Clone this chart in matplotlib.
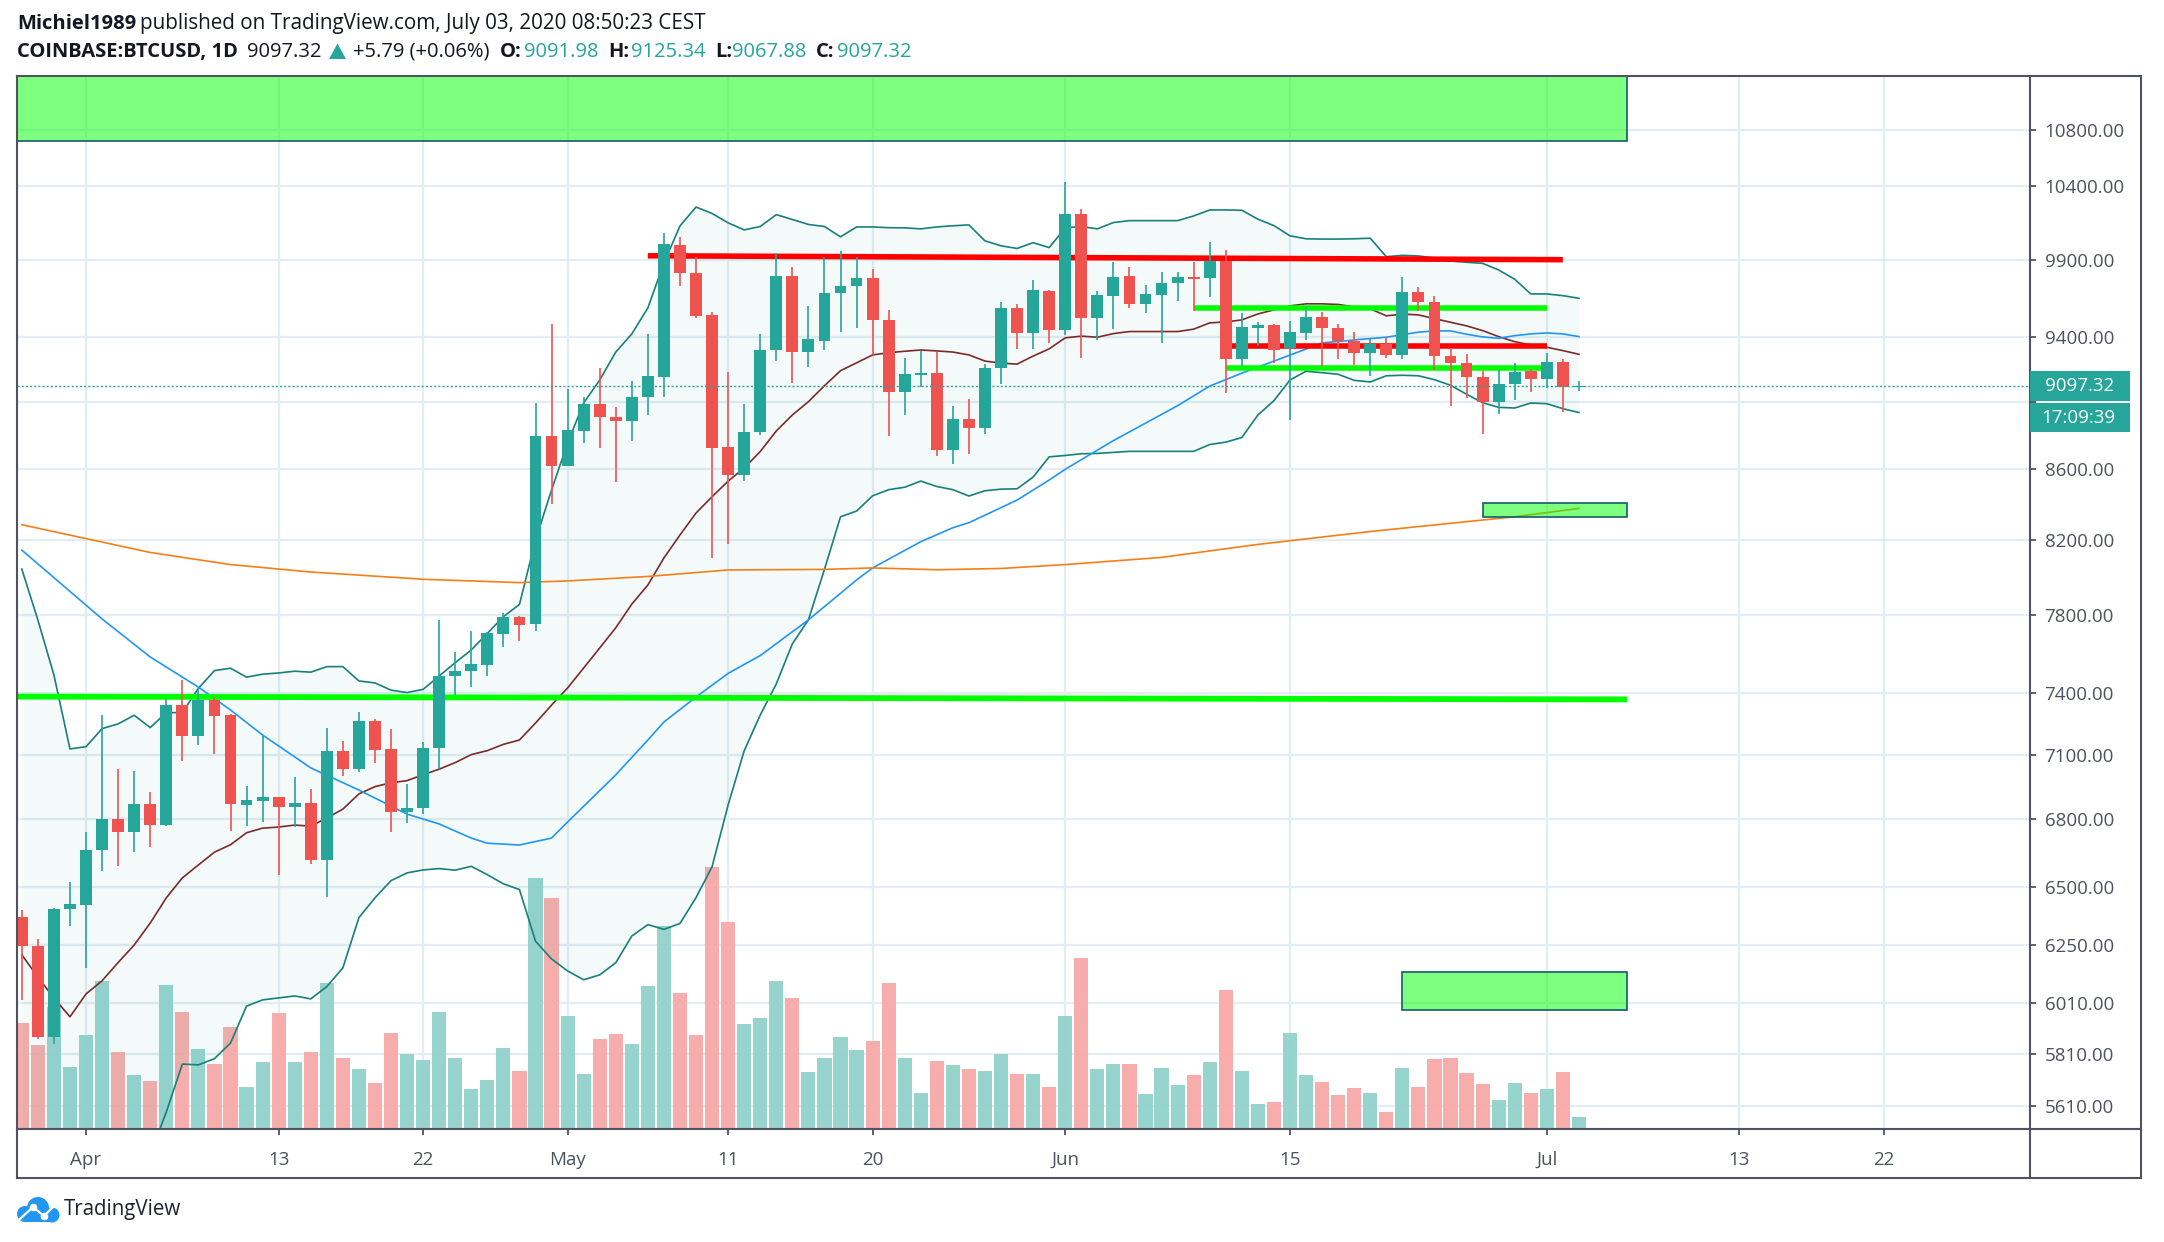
# BTCUSD daily chart, TradingView style
import matplotlib
matplotlib.use('Agg')
import matplotlib.pyplot as plt
import numpy as np
from matplotlib.lines import Line2D
from matplotlib.patches import Circle, Polygon, Rectangle
from matplotlib.ticker import NullLocator
from matplotlib.transforms import IdentityTransform

W, H = 2164, 1242
plt.rcParams['font.family'] = ['Open Sans', 'DejaVu Sans']

# days counted from Apr 1 (0), first candle is Mar 28
days = list(range(-4, 94))

opens = [6367, 6247, 5875, 6405, 6420, 6660, 6802, 6741, 6872, 6775, 7340, 7192, 7368, 7292,
         6865, 6884, 6905, 6857, 6875, 6618, 7120, 7035, 7263, 7128, 6834, 6854, 7135, 7488,
         7510, 7542, 7702, 7788, 7754, 8795, 8622, 8827, 8986, 8910, 8886, 9031, 9152, 9999,
         9812, 9538, 8731, 8566, 8818, 9318, 9793, 9305, 9375, 9678, 9726, 9782, 9510, 9059,
         9164, 9178, 8713, 8899, 8841, 9206, 9581, 9423, 9697, 9443, 10211, 9518, 9663, 9791,
         9610, 9668, 9744, 9783, 9778, 9892, 9264, 9458, 9473, 9328, 9426, 9525, 9454, 9374,
         9297, 9355, 9285, 9685, 9622, 9280, 9239, 9153, 9000, 9110, 9188, 9137, 9241, 9091.98]
highs = [6400, 6275, 6407, 6522, 6742, 7292, 7034, 7025, 6925, 7372, 7468, 7417, 7380, 7300,
         6955, 7198, 6905, 6997, 6940, 7228, 7165, 7307, 7272, 7225, 6962, 7164, 7774, 7610,
         7717, 7712, 7809, 7795, 8990, 9482, 9077, 9028, 9206, 8966, 9126, 9419, 10078, 10052,
         9921, 9557, 9183, 8985, 9419, 9943, 9850, 9597, 9917, 9958, 9917, 9836, 9572, 9265,
         9313, 9307, 8975, 9016, 9228, 9626, 9611, 9766, 9703, 10428, 10240, 9693, 9884, 9853,
         9731, 9818, 9816, 9884, 10015, 9967, 9555, 9492, 9480, 9500, 9588, 9557, 9482, 9428,
         9391, 9401, 9788, 9720, 9662, 9333, 9292, 9190, 9192, 9235, 9198, 9298, 9260, 9125.34]
lows = [6023, 5867, 5848, 6332, 6155, 6567, 6590, 6653, 6675, 6771, 7070, 7150, 7105, 6746,
        6771, 6786, 6552, 6767, 6598, 6456, 7000, 7018, 7060, 6742, 6783, 6825, 7032, 7392,
        7433, 7488, 7632, 7667, 7715, 8403, 8620, 8755, 8726, 8529, 8767, 8920, 9029, 9724,
        9517, 8102, 8180, 8533, 8802, 9250, 9113, 9212, 9320, 9433, 9459, 9286, 8798, 8921,
        9091, 8680, 8633, 8688, 8808, 9107, 9326, 9322, 9361, 9412, 9266, 9380, 9447, 9582,
        9550, 9361, 9631, 9567, 9657, 9050, 9219, 9342, 9239, 8893, 9380, 9221, 9263, 9227,
        9157, 9268, 9263, 9567, 9192, 8977, 9021, 8810, 8927, 9011, 9057, 9083, 8936, 9067.88]
closes = [6247, 5875, 6405, 6423, 6661, 6802, 6741, 6872, 6775, 7340, 7192, 7368, 7286, 6870,
          6887, 6905, 6858, 6877, 6618, 7120, 7035, 7262, 7125, 6834, 6852, 7135, 7487, 7510,
          7546, 7704, 7788, 7750, 8795, 8622, 8829, 8986, 8906, 8882, 9031, 9154, 10005, 9810,
          9534, 8727, 8566, 8820, 9320, 9793, 9307, 9384, 9678, 9728, 9782, 9510, 9059, 9168,
          9178, 8713, 8899, 8841, 9208, 9581, 9423, 9700, 9443, 10211, 9518, 9665, 9787, 9610,
          9672, 9748, 9783, 9772, 9892, 9264, 9462, 9473, 9320, 9428, 9526, 9454, 9374, 9301,
          9355, 9285, 9685, 9622, 9280, 9239, 9153, 9000, 9110, 9182, 9137, 9241, 9092, 9097.32]
volumes = [106, 84, 122, 62, 94, 148, 77, 54, 48, 144, 117, 80, 65, 102, 42, 67, 116, 67, 77, 146,
           71, 60, 46, 96, 75, 69, 117, 71, 40, 49, 81, 58, 251, 231, 113, 55, 90, 95, 85, 143,
           203, 136, 94, 262, 207, 105, 111, 148, 131, 57, 71, 92, 79, 88, 146, 71, 36, 68, 64, 60,
           58, 75, 55, 55, 42, 113, 171, 60, 65, 65, 35, 61, 44, 54, 67, 139, 58, 25, 27, 96,
           54, 47, 34, 41, 36, 17, 61, 42, 70, 71, 56, 45, 29, 46, 36, 40, 57, 12]

bb_upper = [8044, 7774, 7492, 7129, 7140, 7227, 7250, 7292, 7232, 7305, 7305, 7425, 7514, 7526,
            7481, 7496, 7502, 7511, 7506, 7534, 7534, 7462, 7452, 7416, 7404, 7420, 7487, 7554,
            7619, 7704, 7791, 7855, 8202, 8482, 8754, 8992, 9132, 9305, 9419, 9585, 9878, 10127,
            10256, 10212, 10148, 10100, 10123, 10204, 10171, 10137, 10123, 10053, 10120, 10120,
            10115, 10114, 10107, 10120, 10128, 10134, 10026, 9993, 9975, 10014, 9981, 10114,
            10123, 10107, 10150, 10163, 10163, 10163, 10163, 10195, 10236, 10236, 10234, 10173,
            10129, 10060, 10040, 10038, 10038, 10040, 10044, 9920, 9929, 9925, 9911, 9891, 9883,
            9876, 9832, 9771, 9675, 9675, 9664, 9647]
bb_lower = [4900, 4850, 4800, 4850, 4950, 5050, 5150, 5300, 5430, 5587, 5770, 5767, 5791, 5852,
            5999, 6024, 6032, 6040, 6028, 6078, 6155, 6366, 6451, 6526, 6560, 6573, 6579, 6572,
            6589, 6552, 6512, 6487, 6266, 6192, 6142, 6106, 6126, 6176, 6288, 6336, 6316, 6341,
            6452, 6587, 6866, 7120, 7293, 7447, 7650, 7774, 8042, 8331, 8363, 8449, 8484, 8498,
            8533, 8502, 8484, 8448, 8478, 8487, 8489, 8556, 8673, 8681, 8691, 8693, 8699, 8705,
            8705, 8705, 8705, 8705, 8745, 8759, 8786, 8920, 9006, 9132, 9186, 9177, 9167, 9130,
            9120, 9158, 9161, 9158, 9134, 9100, 9045, 8994, 8966, 8962, 8992, 8988, 8958, 8935]
bb_basis = [6209, 6117, 6032, 5956, 6048, 6102, 6177, 6250, 6343, 6451, 6538, 6595, 6652, 6685,
            6739, 6760, 6765, 6774, 6769, 6806, 6847, 6917, 6951, 6969, 6979, 7007, 7033, 7064,
            7102, 7121, 7151, 7172, 7254, 7342, 7427, 7527, 7629, 7733, 7857, 7958, 8104, 8230,
            8352, 8444, 8533, 8608, 8704, 8825, 8920, 9000, 9097, 9189, 9238, 9287, 9301, 9310,
            9318, 9312, 9305, 9287, 9249, 9236, 9230, 9280, 9325, 9394, 9405, 9398, 9421, 9434,
            9434, 9434, 9434, 9449, 9489, 9495, 9508, 9546, 9572, 9598, 9611, 9611, 9607, 9592,
            9579, 9534, 9545, 9540, 9516, 9493, 9470, 9440, 9402, 9370, 9349, 9335, 9314, 9291]

ma50_days = [-4, 1, 4, 7, 9, 11, 14, 17, 20, 22, 24, 25, 27, 29, 30, 33, 35, 36, 38, 40, 42, 45, 48, 49,
             52, 54, 55, 58, 60, 61, 64, 68, 70, 72, 75, 77, 79, 81, 83, 84, 85, 86, 87, 88, 89, 90,
             91, 92, 93]
ma50 = [8147, 7779, 7583, 7431, 7318, 7196, 7039, 6935, 6824, 6779, 6715, 6692, 6684, 6715, 6788,
        7006, 7172, 7259, 7382, 7500, 7590, 7774, 7985, 8050, 8193, 8270, 8298, 8425, 8539, 8601,
        8768, 8976, 9095, 9174, 9286, 9362, 9381, 9398, 9430, 9438, 9438, 9417, 9400, 9391, 9408,
        9419, 9425, 9419, 9402]
ma200_days = [-4, 0, 4, 9, 14, 21, 27, 30, 35, 40, 46, 49, 53, 57, 61, 67, 73, 80, 87, 89, 93]
ma200 = [8287, 8210, 8134, 8068, 8028, 7989, 7971, 7980, 8004, 8039, 8042, 8050, 8040, 8047, 8068,
         8107, 8178, 8249, 8313, 8331, 8378]

price_ticks = [5610, 5810, 6010, 6250, 6500, 6800, 7100, 7400, 7800, 8200, 8600, 9000, 9400, 9900,
               10400, 10800]
time_ticks = [0, 12, 21, 30, 40, 49, 61, 75, 91, 103, 112]
time_labels = ['Apr', '13', '22', 'May', '11', '20', 'Jun', '15', 'Jul', '13', '22']
last_price = 9097.32

GREEN = '#26a69a'
RED = '#ef5350'
GRID = '#e3edf3'
AXIS = '#50535e'
TEXT = '#131722'


def fx(x):
    return x / W


def fy(y):
    return 1 - y / H


fig = plt.figure(figsize=(W / 100, H / 100), dpi=100, facecolor='white')
ax = fig.add_axes([fx(17), fy(1129), fx(2030 - 17), (1129 - 76) / H])
ax.set_yscale('log')
ax.set_xlim(-4.3, 121.1)
ax.set_ylim(5524, 11199)

# grid and axis ticks
ax.set_yticks(price_ticks)
ax.set_yticklabels(['' if p == 9000 else f'{p:.2f}' for p in price_ticks])
ax.yaxis.set_minor_locator(NullLocator())
ax.set_xticks(time_ticks)
ax.set_xticklabels(time_labels)
ax.yaxis.tick_right()
ax.tick_params(axis='y', length=4.5, width=1.3, color=AXIS, labelcolor='#4c525e', labelsize=13.5, pad=6)
ax.tick_params(axis='x', length=4.5, width=1.3, color=AXIS, labelcolor='#4c525e', labelsize=13.5, pad=11)
ax.grid(True, color=GRID, linewidth=1.6, zorder=0)
ax.set_axisbelow(True)
for s in ax.spines.values():
    s.set_visible(False)

# volume sits in the bottom part of the pane
up = [c >= o for o, c in zip(opens, closes)]
vol_colors = ['#92d2cc' if u else '#f7a9a7' for u in up]
ax.bar(days, np.array(volumes) / 1053, width=0.88, color=vol_colors, alpha=0.95,
       transform=ax.get_xaxis_transform(), zorder=1)

# bollinger bands and moving averages
ax.fill_between(days, bb_lower, bb_upper, color=GREEN, alpha=0.055, linewidth=0, zorder=1.5)
ax.plot(days, bb_upper, color='#17807a', linewidth=1.2, zorder=2)
ax.plot(days, bb_lower, color='#17807a', linewidth=1.2, zorder=2)
ax.plot(days, bb_basis, color='#7b2b2b', linewidth=1.2, zorder=2)
ax.plot(ma50_days, ma50, color='#2196f3', linewidth=1.2, zorder=2)
ax.plot(ma200_days, ma200, color='#f57f17', linewidth=1.2, zorder=2)

# hand drawn lines
ax.plot([-5, 96], [7384, 7370], color='#00ff00', linewidth=4.2, solid_capstyle='butt', zorder=3)
ax.plot([35, 92], [9926, 9900], color='#ff0000', linewidth=4, solid_capstyle='butt', zorder=3)
ax.plot([69, 91], [9585, 9585], color='#00ff00', linewidth=4, solid_capstyle='butt', zorder=3)
ax.plot([71, 91], [9345, 9345], color='#ff0000', linewidth=4, solid_capstyle='butt', zorder=3)
ax.plot([71, 90.7], [9205, 9205], color='#00ff00', linewidth=4, solid_capstyle='butt', zorder=3)

# candles
colors = [GREEN if u else RED for u in up]
ax.vlines(days, lows, highs, color=colors, linewidth=1.2, zorder=4)
ax.bar(days, np.abs(np.array(closes) - np.array(opens)), bottom=np.minimum(opens, closes),
       width=0.74, color=colors, zorder=4.1)

# last price line
ax.axhline(last_price, color=GREEN, linewidth=1, linestyle=(0, (1.5, 1.5)), zorder=4.2)

# zones
for x0, x1, p0, p1 in [(-10, 96, 10723, 11400), (87, 96, 8331, 8410), (82, 96, 5985, 6138)]:
    ax.add_patch(Rectangle((x0, p0), x1 - x0, p1 - p0, facecolor=(0, 1, 0, 0.5),
                           edgecolor='#155a6e', linewidth=1.2, zorder=5))

ax.set_xlim(-4.3, 121.1)
ax.set_ylim(5524, 11199)

# frame
for x0, y0, x1, y1 in [(17, 76, 2141, 76), (17, 76, 17, 1178), (17, 1178, 2141, 1178), (2141, 76, 2141, 1178),
                       (2030, 76, 2030, 1178), (17, 1129, 2141, 1129)]:
    fig.add_artist(Line2D([fx(x0), fx(x1)], [fy(y0), fy(y1)], color=AXIS, linewidth=1.5, zorder=6))

# price labels on the axis
fig.add_artist(Rectangle((fx(2030), fy(400.7)), fx(100), 30 / H, facecolor=GREEN, edgecolor='none', zorder=7))
fig.add_artist(Rectangle((fx(2030), fy(432)), fx(100), 29.5 / H, facecolor=GREEN, edgecolor='none', zorder=7))
fig.text(fx(2045), fy(386), '9097.32', color='white', fontsize=13.5, va='center', zorder=8)
fig.text(fx(2078), fy(418), '17:09:39', color='white', fontsize=13.5, va='center', ha='center', zorder=8)

# header
fig.text(fx(17), fy(24), 'Michiel1989', fontsize=14.5, fontweight='bold', color=TEXT, va='center')
fig.text(fx(140), fy(24), 'published on TradingView.com, July 03, 2020 08:50:23 CEST', fontsize=14.9,
         color=TEXT, va='center')
header = [(17, 'COINBASE:BTCUSD, 1D', TEXT, 'bold'), (247, '9097.32', TEXT, 'normal'),
          (353, '+5.79 (+0.06%)', TEXT, 'normal'), (500, 'O:', TEXT, 'bold'), (524, '9091.98', GREEN, 'normal'),
          (608, 'H:', TEXT, 'bold'), (631, '9125.34', GREEN, 'normal'), (715, 'L:', TEXT, 'bold'),
          (732, '9067.88', GREEN, 'normal'), (816, 'C:', TEXT, 'bold'), (837, '9097.32', GREEN, 'normal')]
for x, s, c, w in header:
    fig.text(fx(x), fy(52), s, fontsize=14.5, color=c, fontweight=w, va='center')
fig.add_artist(Polygon([(fx(329), fy(59)), (fx(346), fy(59)), (fx(337.5), fy(43.5))], facecolor=GREEN,
                       edgecolor='none'))

# logo, drawn in display pixels
for cx, cy, r in [(25, 1214, 8), (38, 1208, 11), (52, 1215, 7.5)]:
    fig.add_artist(Circle((cx, H - cy), r, facecolor='#2196f3', edgecolor='none', transform=IdentityTransform()))
fig.add_artist(Rectangle((25, H - 1222), 27, 10, facecolor='#2196f3', edgecolor='none', transform=IdentityTransform()))
fig.add_artist(Line2D([20, 33, 44, 54], [H - y for y in (1219, 1207, 1216, 1206)], color='white', linewidth=1.6,
                      transform=IdentityTransform()))
fig.add_artist(Line2D([33, 44], [H - 1207, H - 1216], color='white', linestyle='none', marker='o', markersize=4.5,
                      transform=IdentityTransform()))
fig.text(fx(64), fy(1209), 'TradingView', fontsize=14.8, color='#1e222d', va='center')

fig.savefig('out.png', dpi=100)
